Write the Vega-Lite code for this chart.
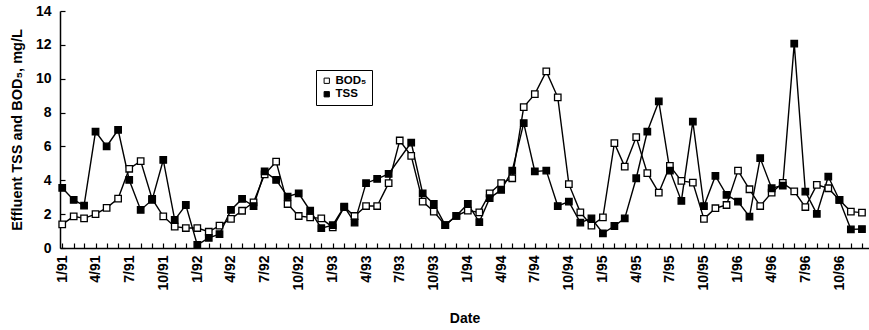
{
  "$schema": "https://vega.github.io/schema/vega-lite/v6.json",
  "width": 809,
  "height": 237,
  "autosize": {"type": "none"},
  "padding": {"left": 60, "top": 11, "right": 0, "bottom": 82},
  "background": "white",
  "config": {
    "view": {"stroke": null},
    "font": "Liberation Sans",
    "axis": {"grid": false, "domainColor": "black", "domainWidth": 1.5, "tickColor": "black", "tickWidth": 1.2, "labelColor": "black", "titleColor": "black", "labelFont": "Liberation Sans", "titleFont": "Liberation Sans", "labelFontWeight": "bold", "titleFontWeight": "bold", "labelFontSize": 14, "titleFontSize": 14}
  },
  "datasets": {
    "obs": [
      {"date": "1991-01-01", "BOD": 1.4, "TSS": 3.55},
      {"date": "1991-02-01", "BOD": 1.87, "TSS": 2.84},
      {"date": "1991-03-01", "BOD": 1.75, "TSS": 2.5},
      {"date": "1991-04-01", "BOD": 2.0, "TSS": 6.88},
      {"date": "1991-05-01", "BOD": 2.37, "TSS": 6.0},
      {"date": "1991-06-01", "BOD": 2.92, "TSS": 6.98},
      {"date": "1991-07-01", "BOD": 4.68, "TSS": 4.02},
      {"date": "1991-08-01", "BOD": 5.13, "TSS": 2.25},
      {"date": "1991-09-01", "BOD": 2.9, "TSS": 2.84},
      {"date": "1991-10-01", "BOD": 1.87, "TSS": 5.2},
      {"date": "1991-11-01", "BOD": 1.26, "TSS": 1.66},
      {"date": "1991-12-01", "BOD": 1.18, "TSS": 2.54},
      {"date": "1992-01-01", "BOD": 1.18, "TSS": 0.18},
      {"date": "1992-02-01", "BOD": 0.96, "TSS": 0.6},
      {"date": "1992-03-01", "BOD": 1.32, "TSS": 0.82},
      {"date": "1992-04-01", "BOD": 1.72, "TSS": 2.25},
      {"date": "1992-05-01", "BOD": 2.2, "TSS": 2.9},
      {"date": "1992-06-01", "BOD": 2.7, "TSS": 2.48},
      {"date": "1992-07-01", "BOD": 4.35, "TSS": 4.52},
      {"date": "1992-08-01", "BOD": 5.1, "TSS": 4.02},
      {"date": "1992-09-01", "BOD": 2.6, "TSS": 3.04},
      {"date": "1992-10-01", "BOD": 1.89, "TSS": 3.23},
      {"date": "1992-11-01", "BOD": 1.81, "TSS": 2.2},
      {"date": "1992-12-01", "BOD": 1.75, "TSS": 1.17},
      {"date": "1993-01-01", "BOD": 1.22, "TSS": 1.35},
      {"date": "1993-02-01", "BOD": 2.41, "TSS": 2.45},
      {"date": "1993-03-01", "BOD": 1.89, "TSS": 1.5},
      {"date": "1993-04-01", "BOD": 2.48, "TSS": 3.83},
      {"date": "1993-05-01", "BOD": 2.48, "TSS": 4.08},
      {"date": "1993-06-01", "BOD": 3.83, "TSS": 4.38},
      {"date": "1993-07-01", "BOD": 6.35, "TSS": null},
      {"date": "1993-08-01", "BOD": 5.44, "TSS": 6.23},
      {"date": "1993-09-01", "BOD": 2.74, "TSS": 3.23},
      {"date": "1993-10-01", "BOD": 2.15, "TSS": 2.6},
      {"date": "1993-11-01", "BOD": 1.35, "TSS": 1.35},
      {"date": "1993-12-01", "BOD": 1.9, "TSS": 1.9},
      {"date": "1994-01-01", "BOD": 2.21, "TSS": 2.6},
      {"date": "1994-02-01", "BOD": 2.1, "TSS": 1.53},
      {"date": "1994-03-01", "BOD": 3.23, "TSS": 2.94},
      {"date": "1994-04-01", "BOD": 3.83, "TSS": 3.43},
      {"date": "1994-05-01", "BOD": 4.12, "TSS": 4.57},
      {"date": "1994-06-01", "BOD": 8.32, "TSS": 7.38},
      {"date": "1994-07-01", "BOD": 9.09, "TSS": 4.52},
      {"date": "1994-08-01", "BOD": 10.43, "TSS": 4.57},
      {"date": "1994-09-01", "BOD": 8.9, "TSS": 2.48},
      {"date": "1994-10-01", "BOD": 3.77, "TSS": 2.74},
      {"date": "1994-11-01", "BOD": 2.11, "TSS": 1.5},
      {"date": "1994-12-01", "BOD": 1.32, "TSS": 1.75},
      {"date": "1995-01-01", "BOD": 1.81, "TSS": 0.87},
      {"date": "1995-02-01", "BOD": 6.19, "TSS": 1.3},
      {"date": "1995-03-01", "BOD": 4.81, "TSS": 1.75},
      {"date": "1995-04-01", "BOD": 6.55, "TSS": 4.12},
      {"date": "1995-05-01", "BOD": 4.42, "TSS": 6.88},
      {"date": "1995-06-01", "BOD": 3.27, "TSS": 8.66},
      {"date": "1995-07-01", "BOD": 4.85, "TSS": 4.57},
      {"date": "1995-08-01", "BOD": 3.96, "TSS": 2.78},
      {"date": "1995-09-01", "BOD": 3.86, "TSS": 7.47},
      {"date": "1995-10-01", "BOD": 1.72, "TSS": 2.48},
      {"date": "1995-11-01", "BOD": 2.35, "TSS": 4.26},
      {"date": "1995-12-01", "BOD": 2.54, "TSS": 3.14},
      {"date": "1996-01-01", "BOD": 4.57, "TSS": 2.74},
      {"date": "1996-02-01", "BOD": 3.47, "TSS": 1.85},
      {"date": "1996-03-01", "BOD": 2.48, "TSS": 5.31},
      {"date": "1996-04-01", "BOD": 3.27, "TSS": 3.53},
      {"date": "1996-05-01", "BOD": 3.85, "TSS": 3.69},
      {"date": "1996-06-01", "BOD": 3.35, "TSS": 12.07},
      {"date": "1996-07-01", "BOD": 2.42, "TSS": 3.33},
      {"date": "1996-08-01", "BOD": 3.73, "TSS": 2.02},
      {"date": "1996-09-01", "BOD": 3.53, "TSS": 4.22},
      {"date": "1996-10-01", "BOD": 2.84, "TSS": 2.84},
      {"date": "1996-11-01", "BOD": 2.15, "TSS": 1.1},
      {"date": "1996-12-01", "BOD": 2.09, "TSS": 1.12}
    ]
  },
  "data": {"name": "obs"},
  "transform": [
    {"fold": ["BOD", "TSS"], "as": ["key", "value"]},
    {"filter": "datum.value != null"},
    {"calculate": "datum.key == 'BOD' ? 'BOD₅' : 'TSS'", "as": "series"}
  ],
  "encoding": {
    "x": {
      "field": "date", "type": "temporal",
      "scale": {"type": "utc", "domain": ["1990-12-26", "1996-12-20"]},
      "axis": {
        "title": "Date", "titlePadding": 21,
        "tickCount": {"interval": "month", "step": 1},
        "tickSize": -5,
        "labelAngle": -90, "labelAlign": "right", "labelBaseline": "middle",
        "labelPadding": 12, "labelOverlap": false, "labelFlush": false,
        "labelExpr": "utcmonth(datum.value) % 3 == 0 ? utcFormat(datum.value, '%-m/%y') : ''"
      }
    },
    "y": {
      "field": "value", "type": "quantitative",
      "scale": {"domain": [0, 14], "nice": false},
      "axis": {"title": "Effluent TSS and BOD₅, mg/L", "titleFontSize": 14.5, "values": [0, 2, 4, 6, 8, 10, 12, 14], "tickSize": -5, "labelPadding": 14, "titlePadding": 11}
    }
  },
  "layer": [
    {
      "mark": {"type": "line", "color": "black", "strokeWidth": 1.4},
      "encoding": {"detail": {"field": "series"}}
    },
    {
      "mark": {"type": "point", "shape": "square", "size": 42, "stroke": "black", "strokeWidth": 1.3, "opacity": 1, "filled": false},
      "encoding": {
        "fill": {
          "field": "series", "type": "nominal",
          "scale": {"domain": ["BOD₅", "TSS"], "range": ["white", "black"]},
          "legend": {
            "title": null, "orient": "none", "legendX": 256, "legendY": 59,
            "strokeColor": "black", "padding": 5, "symbolType": "square", "symbolSize": 28,
            "symbolStrokeColor": "black", "symbolStrokeWidth": 1,
            "labelFont": "Liberation Sans", "labelFontWeight": "bold", "labelFontSize": 11.5, "labelColor": "black",
            "rowPadding": 0.5, "labelOffset": 3
          }
        }
      }
    }
  ]
}
